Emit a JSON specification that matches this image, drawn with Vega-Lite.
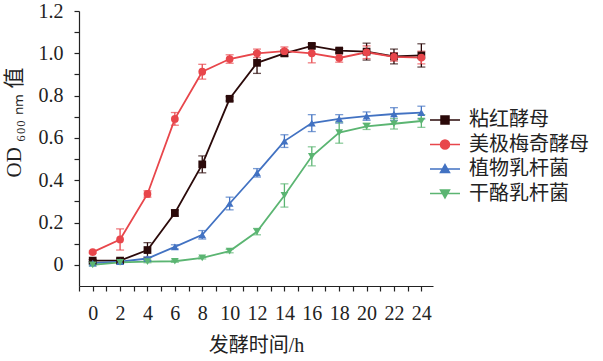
{
  "$schema": "https://vega.github.io/schema/vega-lite/v6.json",
  "width": 354,
  "height": 275,
  "autosize": "none",
  "padding": {"left": 79, "top": 11, "right": 170, "bottom": 75},
  "background": "white",
  "config": {
    "view": {"stroke": null},
    "font": "Liberation Serif, Noto Sans CJK SC",
    "axis": {
      "grid": false,
      "domainColor": "#222",
      "tickColor": "#222",
      "domainWidth": 1.2,
      "tickWidth": 1.2,
      "tickSize": 5,
      "labelColor": "#222",
      "titleColor": "#222",
      "labelFont": "Liberation Serif",
      "labelFontSize": 20,
      "titleFont": "Liberation Serif, Noto Sans CJK SC",
      "titleFontSize": 20,
      "titleFontWeight": "normal"
    },
    "legend": {"labelFont": "Liberation Serif, Noto Sans CJK SC", "labelFontSize": 20, "labelColor": "#222"}
  },
  "data": {"values": [
    {"t":0,"s":"粘红酵母","od":0.02,"e":0.005},
    {"t":2,"s":"粘红酵母","od":0.02,"e":0.01},
    {"t":4,"s":"粘红酵母","od":0.07,"e":0.035},
    {"t":6,"s":"粘红酵母","od":0.245,"e":0.015},
    {"t":8,"s":"粘红酵母","od":0.475,"e":0.04},
    {"t":10,"s":"粘红酵母","od":0.785,"e":0.01},
    {"t":12,"s":"粘红酵母","od":0.955,"e":0.05},
    {"t":14,"s":"粘红酵母","od":1.0,"e":0.015},
    {"t":16,"s":"粘红酵母","od":1.035,"e":0.01},
    {"t":18,"s":"粘红酵母","od":1.013,"e":0.01},
    {"t":20,"s":"粘红酵母","od":1.008,"e":0.04},
    {"t":22,"s":"粘红酵母","od":0.985,"e":0.035},
    {"t":24,"s":"粘红酵母","od":0.99,"e":0.055},
    {"t":0,"s":"美极梅奇酵母","od":0.06,"e":0.005},
    {"t":2,"s":"美极梅奇酵母","od":0.12,"e":0.05},
    {"t":4,"s":"美极梅奇酵母","od":0.335,"e":0.015},
    {"t":6,"s":"美极梅奇酵母","od":0.69,"e":0.03},
    {"t":8,"s":"美极梅奇酵母","od":0.913,"e":0.035},
    {"t":10,"s":"美极梅奇酵母","od":0.973,"e":0.02},
    {"t":12,"s":"美极梅奇酵母","od":1.0,"e":0.02},
    {"t":14,"s":"美极梅奇酵母","od":1.01,"e":0.02},
    {"t":16,"s":"美极梅奇酵母","od":1.0,"e":0.045},
    {"t":18,"s":"美极梅奇酵母","od":0.978,"e":0.02},
    {"t":20,"s":"美极梅奇酵母","od":1.005,"e":0.03},
    {"t":22,"s":"美极梅奇酵母","od":0.983,"e":0.02},
    {"t":24,"s":"美极梅奇酵母","od":0.98,"e":0.03},
    {"t":0,"s":"植物乳杆菌","od":0.008,"e":0.005},
    {"t":2,"s":"植物乳杆菌","od":0.015,"e":0.005},
    {"t":4,"s":"植物乳杆菌","od":0.03,"e":0.008},
    {"t":6,"s":"植物乳杆菌","od":0.085,"e":0.01},
    {"t":8,"s":"植物乳杆菌","od":0.142,"e":0.02},
    {"t":10,"s":"植物乳杆菌","od":0.29,"e":0.03},
    {"t":12,"s":"植物乳杆菌","od":0.435,"e":0.02},
    {"t":14,"s":"植物乳杆菌","od":0.585,"e":0.03},
    {"t":16,"s":"植物乳杆菌","od":0.67,"e":0.04},
    {"t":18,"s":"植物乳杆菌","od":0.69,"e":0.02},
    {"t":20,"s":"植物乳杆菌","od":0.703,"e":0.02},
    {"t":22,"s":"植物乳杆菌","od":0.713,"e":0.03},
    {"t":24,"s":"植物乳杆菌","od":0.72,"e":0.03},
    {"t":0,"s":"干酪乳杆菌","od":0.0,"e":0.005},
    {"t":2,"s":"干酪乳杆菌","od":0.012,"e":0.005},
    {"t":4,"s":"干酪乳杆菌","od":0.015,"e":0.005},
    {"t":6,"s":"干酪乳杆菌","od":0.017,"e":0.005},
    {"t":8,"s":"干酪乳杆菌","od":0.033,"e":0.005},
    {"t":10,"s":"干酪乳杆菌","od":0.065,"e":0.008},
    {"t":12,"s":"干酪乳杆菌","od":0.157,"e":0.015},
    {"t":14,"s":"干酪乳杆菌","od":0.328,"e":0.055},
    {"t":16,"s":"干酪乳杆菌","od":0.513,"e":0.045},
    {"t":18,"s":"干酪乳杆菌","od":0.625,"e":0.05},
    {"t":20,"s":"干酪乳杆菌","od":0.655,"e":0.015},
    {"t":22,"s":"干酪乳杆菌","od":0.667,"e":0.025},
    {"t":24,"s":"干酪乳杆菌","od":0.68,"e":0.03}
  ]},
  "encoding": {
    "x": {
      "field": "t", "type": "quantitative",
      "scale": {"domain": [-1, 24.85], "nice": false, "zero": false},
      "axis": {
        "title": "发酵时间/h",
        "values": [-1,0,1,2,3,4,5,6,7,8,9,10,11,12,13,14,15,16,17,18,19,20,21,22,23,24],
        "labelExpr": "datum.value >= 0 && datum.value % 2 == 0 ? datum.label : ''",
        "labelPadding": 12,
        "labelFlush": false,
        "labelOverlap": false,
        "titlePadding": 12
      }
    },
    "y": {
      "field": "od", "type": "quantitative",
      "scale": {"domain": [-0.1, 1.2], "nice": false, "zero": false},
      "axis": {
        "title": "OD ₆₀₀ ₙₘ 值",
        "values": [0,0.1,0.2,0.3,0.4,0.5,0.6,0.7,0.8,0.9,1.0,1.1,1.2],
        "labelExpr": "round(datum.value*10) % 2 == 0 ? (datum.value == 0 ? '0' : format(datum.value, '.1f')) : ''",
        "labelPadding": 11,
        "labelFlush": false,
        "labelOverlap": false,
        "titlePadding": 14,
        "titleFontSize": 21,
        "titleY": 111
      }
    },
    "color": {
      "field": "s", "type": "nominal",
      "scale": {
        "domain": ["粘红酵母", "美极梅奇酵母", "植物乳杆菌", "干酪乳杆菌"],
        "range": ["#2b0a0a", "#e8464b", "#4272c2", "#5bb572"]
      },
      "legend": {
        "title": null,
        "orient": "none",
        "legendX": 355,
        "legendY": 98,
        "padding": 0,
        "symbolSize": 400,
        "symbolStrokeWidth": 1.5,
        "labelOffset": 13,
        "rowPadding": 3.5,
        "labelLimit": 300,
        "encode": {
          "symbols": {
            "update": {
              "shape": {"signal": "datum.value === '粘红酵母' ? 'M-1.5,0H1.5M-0.4,-0.4H0.4V0.4H-0.4Z' : datum.value === '美极梅奇酵母' ? 'M-1.5,0H1.5M-0.45,0A0.45,0.45,0,1,0,0.45,0A0.45,0.45,0,1,0,-0.45,0Z' : datum.value === '植物乳杆菌' ? 'M-1.5,0H1.5M0,-0.45L0.45,0.35H-0.45Z' : 'M-1.5,0H1.5M0,0.45L0.45,-0.35H-0.45Z'"},
              "stroke": {"scale": "color", "field": "value"},
              "fill": {"scale": "color", "field": "value"},
              "strokeWidth": {"value": 1.5},
              "opacity": {"value": 1}
            }
          }
        }
      }
    }
  },
  "layer": [
    {
      "mark": {"type": "errorbar", "ticks": {"size": 8, "thickness": 1.3}, "thickness": 1.3},
      "encoding": {"yError": {"field": "e"}}
    },
    {
      "mark": {"type": "line", "strokeWidth": 1.8},
      "encoding": {"detail": {"field": "s"}}
    },
    {
      "mark": {"type": "point", "filled": true, "opacity": 1, "size": 60},
      "encoding": {
        "shape": {
          "condition": [
            {"test": "datum.s === '粘红酵母'", "value": "square"},
            {"test": "datum.s === '美极梅奇酵母'", "value": "circle"},
            {"test": "datum.s === '植物乳杆菌'", "value": "triangle-up"}
          ],
          "value": "triangle-down"
        }
      }
    }
  ]
}
